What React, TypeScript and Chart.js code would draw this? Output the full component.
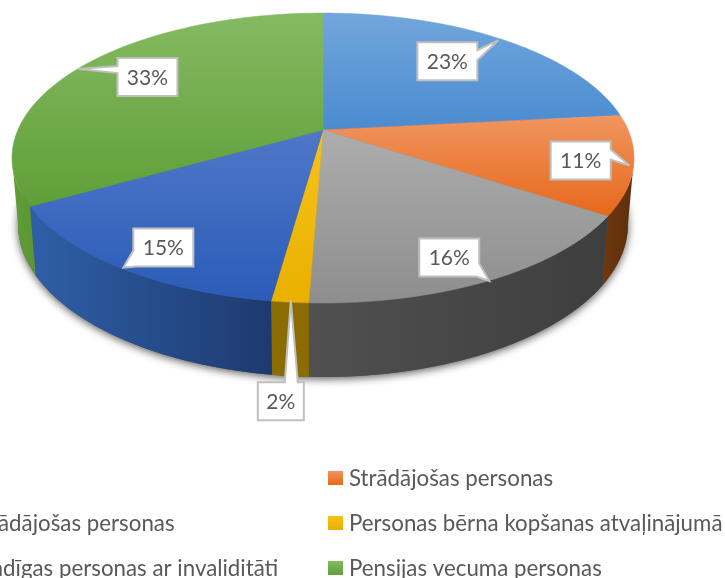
import React, { useEffect, useRef } from "react";
import { Chart, registerables } from "chart.js";

Chart.register(...registerables);

const categories = [
  "Bērni",
  "Strādājošas personas",
  "Nestrādājošas personas",
  "Personas bērna kopšanas atvaļinājumā",
  "Pilngadīgas personas ar invaliditāti",
  "Pensijas vecuma personas",
];
const values = [23.3, 11.0, 16.3, 1.6, 14.55, 33.25];

// Styles: [top-of-slice colour, bottom-of-slice colour]
const surface = [
  ["#72a6dc", "#4a8bd0"],
  ["#f09560", "#e7681a"],
  ["#adadad", "#8e8e8e"],
  ["#f6c21c", "#eab000"],
  ["#4f77c8", "#2a5cb8"],
  ["#85ba62", "#5f9f37"],
];
// Side wall colours, [left end, right end]
const wall = [
  ["#2e6aa8", "#2e6aa8"],
  ["#6e3810", "#5f2f0b"],
  ["#505050", "#3e3e3e"],
  ["#8a6c00", "#8a6c00"],
  ["#2f5fa8", "#1d3a6e"],
  ["#609e38", "#5a9632"],
];
// Tip nudge from the slice's rim midpoint, then box centre relative to the tip
const tipNudge = [
  [-3, 1],
  [-4, 1],
  [-2, 1],
  [1, -2],
  [4, 0],
  [-4, 3],
];
const boxOffset = [
  [-51, 21],
  [-49, -5],
  [-40, -23.5],
  [-10, 101],
  [40, -20],
  [69, 8],
];
const wedgeSide = ["right", "right", "bottomright", "top", "bottomleft", "left"];

const TOP = { cx: 323, cy: 158, rx: 311, ry: 145 };
const BOTTOM = { cx: 323, cy: 224, rx: 305, ry: 153 };
const A = 0.193;

function project(theta: number, e: typeof TOP, r = 1) {
  const x = r * Math.sin(theta);
  const v = -r * Math.cos(theta);
  const d = 1 - A * v;
  return {
    x: e.cx + (e.rx * (x * Math.sqrt(1 - A * A))) / d,
    y: e.cy + (e.ry * (v - A)) / d,
  };
}

function vGradient(ctx: CanvasRenderingContext2D, y0: number, y1: number, c: string[]) {
  const g = ctx.createLinearGradient(0, y0, 0, y1);
  g.addColorStop(0, c[0]);
  g.addColorStop(1, c[1]);
  return g;
}

function calloutPath(ctx: CanvasRenderingContext2D, bx: number, by: number, w: number, h: number, tip: { x: number; y: number }, side: string) {
  const l = bx - w / 2, r = bx + w / 2, t = by - h / 2, b = by + h / 2;
  const pts: [number, number][] = [];
  pts.push([l, t]);
  if (side === "top") {
    pts.push([bx + 4, t], [tip.x, tip.y], [bx + 17, t]);
  }
  pts.push([r, t]);
  if (side === "right") {
    pts.push([r, t + 8], [tip.x, tip.y], [r, t + 18]);
  }
  if (side === "bottomright") {
    pts.push([r, t + 25], [tip.x, tip.y], [r - 3, b]);
    pts.push([l, b]);
  } else if (side === "bottomleft") {
    pts.push([r, b]);
    pts.push([l + 3, b], [tip.x, tip.y], [l, b - 16]);
  } else {
    pts.push([r, b]);
    pts.push([l, b]);
  }
  if (side === "left") {
    pts.push([l, t + 15], [tip.x, tip.y], [l, t + 8]);
  }
  ctx.beginPath();
  pts.forEach((p, i) => (i ? ctx.lineTo(p[0], p[1]) : ctx.moveTo(p[0], p[1])));
  ctx.closePath();
}

const pie3d = {
  id: "pie3d",
  beforeDatasetsDraw(chart: any) {
    const ctx: CanvasRenderingContext2D = chart.ctx;
    const arcs = chart.getDatasetMeta(0).data;
    const ranges = arcs.map((a: any) => [a.startAngle + Math.PI / 2, a.endAngle + Math.PI / 2]);
    const visA = Math.acos(-A);
    const visB = 2 * Math.PI - visA;

    // soft shadow under the disc
    ctx.save();
    ctx.shadowColor = "rgba(0,0,0,0.65)";
    ctx.shadowBlur = 9;
    ctx.shadowOffsetY = 2;
    ctx.fillStyle = "#555";
    ctx.beginPath();
    for (let t = 0; t <= 360; t += 2) {
      const p = project((t * Math.PI) / 180, BOTTOM);
      t ? ctx.lineTo(p.x, p.y) : ctx.moveTo(p.x, p.y);
    }
    ctx.closePath();
    ctx.fill();
    ctx.restore();

    // walls
    ranges.forEach((rng: number[], i: number) => {
      const s = Math.max(rng[0], visA);
      const e = Math.min(rng[1], visB);
      if (e <= s) return;
      const n = 60;
      const upper = [], lower = [];
      for (let k = 0; k <= n; k++) {
        const t = s + ((e - s) * k) / n;
        upper.push(project(t, TOP));
        lower.push(project(t, BOTTOM));
      }
      const xs = upper.concat(lower).map((p) => p.x);
      const x0 = Math.min(...xs), x1 = Math.max(...xs);
      const g = ctx.createLinearGradient(x0, 0, x1, 0);
      g.addColorStop(0, wall[i][0]);
      g.addColorStop(1, wall[i][1]);
      ctx.fillStyle = g;
      ctx.beginPath();
      upper.forEach((p, k) => (k ? ctx.lineTo(p.x, p.y) : ctx.moveTo(p.x, p.y)));
      lower.reverse().forEach((p) => ctx.lineTo(p.x, p.y));
      ctx.closePath();
      ctx.fill();
    });

    // top surface
    ranges.forEach((rng: number[], i: number) => {
      const apex = project(0, TOP, 0);
      const pts = [apex];
      const n = 80;
      for (let k = 0; k <= n; k++) pts.push(project(rng[0] + ((rng[1] - rng[0]) * k) / n, TOP));
      const ys = pts.map((p) => p.y);
      ctx.fillStyle = vGradient(ctx, Math.min(...ys), Math.max(...ys), surface[i]);
      ctx.strokeStyle = ctx.fillStyle;
      ctx.lineWidth = 0.5;
      ctx.beginPath();
      pts.forEach((p, k) => (k ? ctx.lineTo(p.x, p.y) : ctx.moveTo(p.x, p.y)));
      ctx.closePath();
      ctx.fill();
      ctx.stroke();
    });

    // callouts
    const total = values.reduce((a, b) => a + b, 0);
    ctx.font = "21px Lato";
    ctx.textAlign = "center";
    ctx.textBaseline = "middle";
    ranges.forEach((rng: number[], i: number) => {
      const tip = project((rng[0] + rng[1]) / 2, TOP);
      tip.x += tipNudge[i][0];
      tip.y += tipNudge[i][1];
      const pct = Math.round((values[i] / total) * 100);
      const w = pct < 10 ? 46 : 60;
      const bx = tip.x + boxOffset[i][0];
      const by = tip.y + boxOffset[i][1];
      calloutPath(ctx, bx, by, w, 38, tip, wedgeSide[i]);
      ctx.fillStyle = "#ffffff";
      ctx.strokeStyle = "#bfbfbf";
      ctx.lineWidth = 2;
      ctx.lineJoin = "miter";
      ctx.miterLimit = 3;
      ctx.fill();
      ctx.stroke();
      ctx.fillStyle = "#595959";
      ctx.fillText(pct + "%", bx, by + 1);
    });

    // legend
    const rowY = [478, 523, 568];
    const colX = [-56, 349];
    ctx.font = "22.3px Lato";
    ctx.textAlign = "left";
    categories.forEach((name, i) => {
      const col = i % 2 === 0 ? 0 : 1;
      const row = Math.floor(i / 2);
      const tx = colX[col];
      const y = rowY[row];
      ctx.fillStyle = vGradient(ctx, y - 7, y + 7, surface[i]);
      ctx.fillRect(tx - 21, y - 7, 15, 14);
      ctx.fillStyle = "#595959";
      ctx.fillText(name, tx, y + 1);
    });
    return false;
  },
};

export default function App() {
  const ref = useRef<HTMLCanvasElement>(null);
  useEffect(() => {
    const chart = new Chart(ref.current as HTMLCanvasElement, {
      type: "pie",
      data: {
        labels: categories,
        datasets: [{ data: values, backgroundColor: surface.map((c) => c[1]), borderWidth: 0 }],
      },
      options: {
        responsive: false,
        animation: false,
        plugins: { legend: { display: false }, tooltip: { enabled: false } },
      },
      plugins: [pie3d],
    } as any);
    return () => chart.destroy();
  }, []);
  return (
    <div style={{ position: "fixed", left: 0, top: 0, width: 725, height: 578, overflow: "hidden", background: "#fff" }}>
      <canvas ref={ref} width={725} height={578} style={{ display: "block" }} />
    </div>
  );
}
